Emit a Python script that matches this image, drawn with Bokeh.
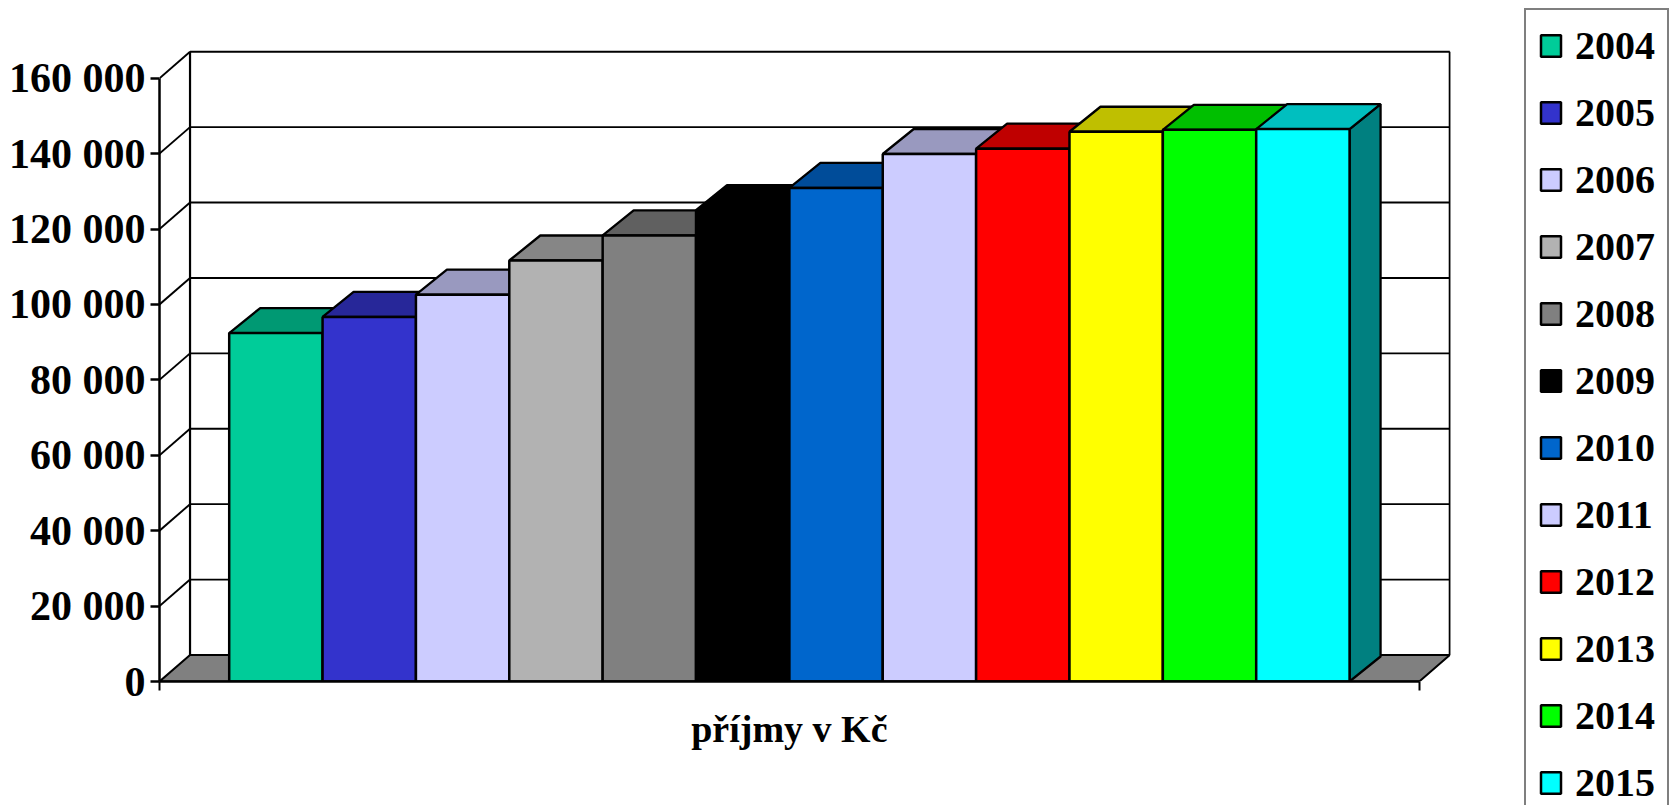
from bokeh.plotting import figure
from bokeh.models import Legend, LegendItem, FixedTicker, Range1d
from bokeh.embed import file_html
from bokeh.resources import INLINE

years = ["2004", "2005", "2006", "2007", "2008", "2009", "2010", "2011", "2012", "2013", "2014", "2015"]
income = [92400, 96700, 102600, 111650, 118300, 125000, 130900, 139900, 141300, 145800, 146300, 146500]
front_colors = ["#00CC99", "#3333CC", "#CCCCFF", "#B2B2B2", "#808080", "#000000",
                "#0066CC", "#CCCCFF", "#FF0000", "#FFFF00", "#00FF00", "#00FFFF"]
top_colors = ["#009973", "#272799", "#9999BF", "#868686", "#606060", "#000000",
              "#004C99", "#9999BF", "#BF0000", "#BFBF00", "#00BF00", "#00BFBF"]
side_colors = ["#006650", "#1A1A66", "#666680", "#595959", "#404040", "#000000",
               "#003366", "#666680", "#800000", "#808000", "#008000", "#008080"]
y_ticks = [0, 20000, 40000, 60000, 80000, 100000, 120000, 140000, 160000]
y_labels = ["0", "20 000", "40 000", "60 000", "80 000", "100 000", "120 000", "140 000", "160 000"]
category_label = "příjmy v Kč"

FONT = "Liberation Serif"
FLOOR = "#808080"

# Axis extents in data units (one unit in x = one bar)
x0 = -0.7466
x1 = 12.7466
wall_dx = 0.327
wall_dy = 7030
bar_dx = 0.332
bar_dy = 6630

p = figure(width=1671, height=805, frame_width=1291, frame_height=632,
           x_range=Range1d(x0, 13.081), y_range=Range1d(0, 167612),
           min_border_left=159, min_border_right=221, min_border_top=49, min_border_bottom=124,
           output_backend="svg", toolbar_location=None, tools="",
           outline_line_color=None, background_fill_color="white", border_fill_color="white")
p.grid.visible = False

# Axes
ya = p.yaxis[0]
ya.ticker = FixedTicker(ticks=y_ticks)
ya.major_label_overrides = {t: s for t, s in zip(y_ticks, y_labels)}
ya.bounds = (0, y_ticks[-1])
ya.axis_line_width = 2.5
ya.axis_line_color = "black"
ya.major_tick_line_width = 2.4
ya.major_tick_line_color = "black"
ya.major_tick_in = 0
ya.major_tick_out = 9
ya.minor_tick_line_color = None
ya.major_label_standoff = 5
ya.major_label_text_font = FONT
ya.major_label_text_font_style = "bold"
ya.major_label_text_font_size = "42px"
ya.major_label_text_color = "black"

xa = p.xaxis[0]
xa.ticker = FixedTicker(ticks=[6], minor_ticks=[x0, x1])
xa.major_label_overrides = {6: category_label}
xa.bounds = (x0, x1)
xa.axis_line_width = 2.5
xa.axis_line_color = "black"
xa.major_tick_line_color = None
xa.major_tick_in = 0
xa.major_tick_out = 0
xa.minor_tick_line_width = 2
xa.minor_tick_line_color = "black"
xa.minor_tick_in = 0
xa.minor_tick_out = 9
xa.major_label_standoff = 17
xa.major_label_text_font = FONT
xa.major_label_text_font_style = "bold"
xa.major_label_text_font_size = "38px"
xa.major_label_text_color = "black"

# Floor
p.patch([x0, x0 + wall_dx, x1 + wall_dx, x1], [0, wall_dy, wall_dy, 0],
        fill_color=FLOOR, line_color="black", line_width=2)

# Back wall grid and left wall diagonals
grid = y_ticks[1:]
p.multi_line([[x0 + wall_dx, x1 + wall_dx] for _ in grid],
             [[t + wall_dy, t + wall_dy] for t in grid], line_color="black", line_width=1.9)
p.multi_line([[x0, x0 + wall_dx] for _ in grid],
             [[t, t + wall_dy] for t in grid], line_color="black", line_width=1.9)
top = y_ticks[-1] + wall_dy
p.multi_line([[x0 + wall_dx, x0 + wall_dx], [x1 + wall_dx, x1 + wall_dx]],
             [[wall_dy, top], [wall_dy, top]], line_color="black", line_width=2.2)

# Bars
items = []
for i, (yr, v) in enumerate(zip(years, income)):
    r_edge = i + 1
    p.patch([r_edge, r_edge, r_edge + bar_dx, r_edge + bar_dx], [0, v, v + bar_dy, bar_dy],
            fill_color=side_colors[i], line_color="black", line_width=2.3)
    p.patch([i, i + bar_dx, r_edge + bar_dx, r_edge], [v, v + bar_dy, v + bar_dy, v],
            fill_color=top_colors[i], line_color="black", line_width=2.3)
    r = p.quad(left=[i], right=[r_edge], bottom=[0], top=[v],
               fill_color=front_colors[i], line_color="black", line_width=2.5)
    items.append(LegendItem(label=yr, renderers=[r]))

legend = Legend(items=items, location=(74, -139), orientation="vertical",
                margin=0, padding=12, spacing=20,
                glyph_width=25, glyph_height=27, label_height=27, label_standoff=12,
                label_text_font=FONT, label_text_font_style="bold",
                label_text_font_size="40px", label_text_color="black",
                border_line_color="black", border_line_width=2, background_fill_alpha=0)
p.add_layout(legend, "right")

open("out.html", "w").write(file_html(p, INLINE))
